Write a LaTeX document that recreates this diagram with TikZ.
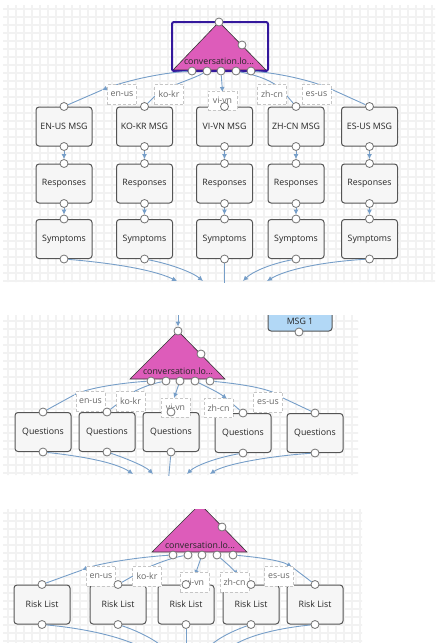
\documentclass[tikz,border=0pt]{standalone}
\usepackage{fontspec}
\setmainfont{Open Sans}
\usetikzlibrary{arrows.meta}
\definecolor{linkblue}{RGB}{118,158,200}
\definecolor{trimag}{RGB}{221,92,186}
\definecolor{selblue}{RGB}{52,24,156}
\definecolor{boxedge}{RGB}{85,85,85}
\definecolor{boxfill}{RGB}{246,246,246}
\definecolor{msgfill}{RGB}{178,216,246}
\pgfdeclarelayer{front}
\pgfsetlayers{main,front}
\tikzset{
  gridline/.style={draw=gray!10,line width=1.1pt},
  card/.style={rectangle,rounded corners=3pt,draw=boxedge,fill=boxfill,
    line width=1pt,minimum width=56pt,minimum height=39pt,inner sep=0pt,
    font=\fontsize{8.8}{10}\selectfont,text=black!85},
  port/.style={circle,draw=black!55,fill=white,line width=0.8pt,
    minimum size=8pt,inner sep=0pt},
  lang/.style={rectangle,draw=gray!45,densely dashed,fill=white,line width=0.6pt,
    text=black!60,minimum width=29pt,minimum height=20pt,inner sep=2pt,
    font=\fontsize{8.8}{10}\selectfont},
  link/.style={draw=linkblue,line width=0.9pt},
  flowtip/.style={-{Latex[length=5pt,width=5pt]}},
  router/.style={draw=black!80,fill=trimag,line width=0.6pt},
  sel/.style={draw=selblue,line width=2pt,rounded corners=2pt},
  trilab/.style={font=\fontsize{8.8}{10}\selectfont,text=black!85,inner sep=0pt}
}
\begin{document}
\begin{tikzpicture}[x=1pt,y=-1pt]
 \useasboundingbox (0,0) rectangle (439,643);
 % the paper of the three editor views
 \begin{scope}
  \clip (3,5) rectangle (435,282) (3,315) rectangle (358,475) (3,509) rectangle (362,643);
  \foreach \gx in {8,16,...,432}
    \draw[gridline] (\gx,0) -- (\gx,643);
  \foreach \gy in {9,17,...,641}
    \draw[gridline] (0,\gy) -- (439,\gy);
 \end{scope}
 % top view: MSG -> Responses -> Symptoms for every language
 \begin{scope}
  \clip (3,5) rectangle (435,282);
  \filldraw[router] (219,22) -- (266,70) -- (173,70) -- cycle;
  \node[trilab] (t1) at (219,61) {conversation.lo...};
  \draw[sel] (172,22) rectangle (268,71);
  \begin{pgfonlayer}{front}
   \node[port] (t1top) at (219,22) {};
   \node[port] (t1side) at (242,45) {};
   \foreach \i/\x in {1/192,2/207,3/221,4/236,5/251}
     \node[port] (t1b\i) at (\x,71) {};
  \end{pgfonlayer}
  \foreach \i/\x/\t in {1/64/EN-US MSG,2/144.5/KO-KR MSG,3/224.5/VI-VN MSG,4/296/ZH-CN MSG,5/369.5/ES-US MSG}{
    \node[card] (m\i) at (\x,126.5) {\t};
    \node[card] (r\i) at (\x,183.5) {Responses};
    \node[card] (s\i) at (\x,239) {Symptoms};
    \begin{pgfonlayer}{front}
     \foreach \n in {m,r,s}{
       \node[port] (top\n\i) at (\n\i.north) {};
       \node[port] (bot\n\i) at (\n\i.south) {};
     }
    \end{pgfonlayer}
    \draw[link,flowtip] (botm\i) -- (topr\i);
    \draw[link,flowtip] (botr\i) -- (tops\i);
  }
  \coordinate (c1) at (102,90);
  \coordinate (c2) at (158,93);
  \coordinate (c3) at (222.5,92);
  \coordinate (c4) at (282,90);
  \coordinate (c5) at (333,90);
  \draw[link,flowtip] (t1b1) .. controls (160,73) and (125,81) .. (c1);
  \draw[link] (c1) -- (topm1);
  \draw[link,flowtip] (t1b2) .. controls (195,78) and (175,84) .. (c2);
  \draw[link] (c2) -- (topm2);
  \draw[link,flowtip] (t1b3) -- (c3);
  \draw[link] (c3) -- (topm3);
  \draw[link,flowtip] (t1b4) .. controls (250,74) and (268,78) .. (c4);
  \draw[link] (c4) -- (topm4);
  \draw[link,flowtip] (t1b5) .. controls (285,74) and (315,82) .. (c5);
  \draw[link] (c5) -- (topm5);
  \node[lang] (l1en) at (122,94.5) {en-us};
  \node[lang] (l1ko) at (169,94.5) {ko-kr};
  \node[lang,minimum height=19pt] (l1vi) at (222.5,100.5) {vi-vn};
  \node[lang] (l1zh) at (272,94.5) {zh-cn};
  \node[lang] (l1es) at (316.5,94.5) {es-us};
  % all five lines run on to the next step below
  \coordinate (z1) at (177,281);
  \coordinate (z2) at (203,281);
  \coordinate (z3) at (224.5,292);
  \coordinate (z4) at (243,281);
  \coordinate (z5) at (267,281);
  \draw[link,flowtip] (bots1) .. controls (100,262) and (150,268) .. (z1);
  \draw[link,flowtip] (bots2) .. controls (170,264) and (192,272) .. (z2);
  \draw[link] (bots3) -- (z3);
  \draw[link,flowtip] (bots4) .. controls (270,264) and (252,272) .. (z4);
  \draw[link,flowtip] (bots5) .. controls (320,262) and (285,270) .. (z5);
 \end{scope}
 % middle view: Questions
 \begin{scope}
  \clip (3,315) rectangle (358,475);
  \node[card,fill=msgfill,minimum width=64pt,minimum height=20pt] (msg1) at (300,321) {MSG 1};
  \filldraw[router] (178,331) -- (225,379) -- (130,379) -- cycle;
  \node[trilab] (t2) at (178,371) {conversation.lo...};
  \begin{pgfonlayer}{front}
   \node[port] (msg1out) at (299,332) {};
   \node[port] (t2top) at (178,331) {};
   \node[port] (t2side) at (201,354) {};
   \foreach \i/\x in {1/151,2/166,3/180,4/195,5/210}
     \node[port] (t2b\i) at (\x,381) {};
  \end{pgfonlayer}
  \coordinate (in2) at (178,310);
  \draw[link,flowtip] (in2) -- (t2top);
  \foreach \i/\x/\y in {1/43/432,2/107/432,3/171/432,4/243/433,5/315/433}{
    \node[card] (q\i) at (\x,\y) {Questions};
    \begin{pgfonlayer}{front}
     \node[port] (topq\i) at (q\i.north) {};
     \node[port] (botq\i) at (q\i.south) {};
    \end{pgfonlayer}
  }
  \coordinate (d1) at (74,395);
  \coordinate (d2) at (125,398);
  \coordinate (d3) at (174,398);
  \coordinate (d4) at (227,399);
  \coordinate (d5) at (283,398);
  \draw[link,flowtip] (t2b1) .. controls (120,383) and (90,388) .. (d1);
  \draw[link] (d1) -- (topq1);
  \draw[link,flowtip] (t2b2) .. controls (150,384) and (135,390) .. (d2);
  \draw[link] (d2) -- (topq2);
  \draw[link,flowtip] (t2b3) -- (d3);
  \draw[link] (d3) -- (topq3);
  \draw[link,flowtip] (t2b4) .. controls (205,386) and (218,392) .. (d4);
  \draw[link] (d4) -- (topq4);
  \draw[link,flowtip] (t2b5) .. controls (240,384) and (268,388) .. (d5);
  \draw[link] (d5) -- (topq5);
  \node[lang] (l2en) at (90.5,401.5) {en-us};
  \node[lang] (l2ko) at (130.5,401.5) {ko-kr};
  \node[lang,minimum height=19pt] (l2vi) at (175.5,407.5) {vi-vn};
  \node[lang,minimum height=19pt] (l2zh) at (218.5,408) {zh-cn};
  \node[lang] (l2es) at (268,402) {es-us};
  \coordinate (w1) at (133,474);
  \coordinate (w2) at (153,474);
  \coordinate (w3) at (168,485);
  \coordinate (w4) at (187,474);
  \coordinate (w5) at (210,474);
  \draw[link,flowtip] (botq1) .. controls (80,456) and (115,462) .. (w1);
  \draw[link,flowtip] (botq2) .. controls (125,458) and (145,466) .. (w2);
  \draw[link] (botq3) -- (w3);
  \draw[link,flowtip] (botq4) .. controls (215,458) and (195,466) .. (w4);
  \draw[link,flowtip] (botq5) .. controls (270,456) and (225,464) .. (w5);
 \end{scope}
 % bottom view: Risk List
 \begin{scope}
  \clip (3,509) rectangle (362,643);
  \filldraw[router] (200,504) -- (247,552) -- (152,552) -- cycle;
  \node[trilab] (t3) at (200,545) {conversation.lo...};
  \begin{pgfonlayer}{front}
   \node[port] (t3side) at (222,527) {};
   \foreach \i/\x in {1/173,2/188,3/202,4/217,5/233}
     \node[port] (t3b\i) at (\x,555) {};
  \end{pgfonlayer}
  \foreach \i/\x in {1/42,2/118,3/186,4/251,5/315}{
    \node[card] (rl\i) at (\x,604.5) {Risk List};
    \begin{pgfonlayer}{front}
     \node[port] (toprl\i) at (rl\i.north) {};
     \node[port] (botrl\i) at (rl\i.south) {};
    \end{pgfonlayer}
  }
  \coordinate (f1) at (82,570);
  \coordinate (f2) at (140,572);
  \coordinate (f3) at (195,575);
  \coordinate (f4) at (238,575);
  \coordinate (f5) at (292,567);
  \draw[link,flowtip] (t3b1) .. controls (140,557) and (100,563) .. (f1);
  \draw[link] (f1) -- (toprl1);
  \draw[link,flowtip] (t3b2) .. controls (170,558) and (150,566) .. (f2);
  \draw[link] (f2) -- (toprl2);
  \draw[link,flowtip] (t3b3) -- (f3);
  \draw[link] (f3) -- (toprl3);
  \draw[link,flowtip] (t3b4) .. controls (225,562) and (232,568) .. (f4);
  \draw[link] (f4) -- (toprl4);
  \draw[link,flowtip] (t3b5) .. controls (255,557) and (280,560) .. (f5);
  \draw[link] (f5) -- (toprl5);
  \node[lang] (l3en) at (101,576) {en-us};
  \node[lang] (l3ko) at (147,576) {ko-kr};
  \node[lang] (l3vi) at (194.5,582) {vi-vn};
  \node[lang] (l3zh) at (234.5,582) {zh-cn};
  \node[lang] (l3es) at (279,576) {es-us};
  \coordinate (v1) at (150,652);
  \coordinate (v2) at (168,652);
  \coordinate (v3) at (186,652);
  \coordinate (v4) at (205,652);
  \coordinate (v5) at (225,652);
  \draw[link] (botrl1) .. controls (80,628) and (125,636) .. (v1);
  \draw[link] (botrl2) .. controls (135,630) and (158,640) .. (v2);
  \draw[link] (botrl3) -- (v3);
  \draw[link] (botrl4) .. controls (235,630) and (212,640) .. (v4);
  \draw[link] (botrl5) .. controls (280,628) and (240,636) .. (v5);
 \end{scope}
\end{tikzpicture}
\end{document}
